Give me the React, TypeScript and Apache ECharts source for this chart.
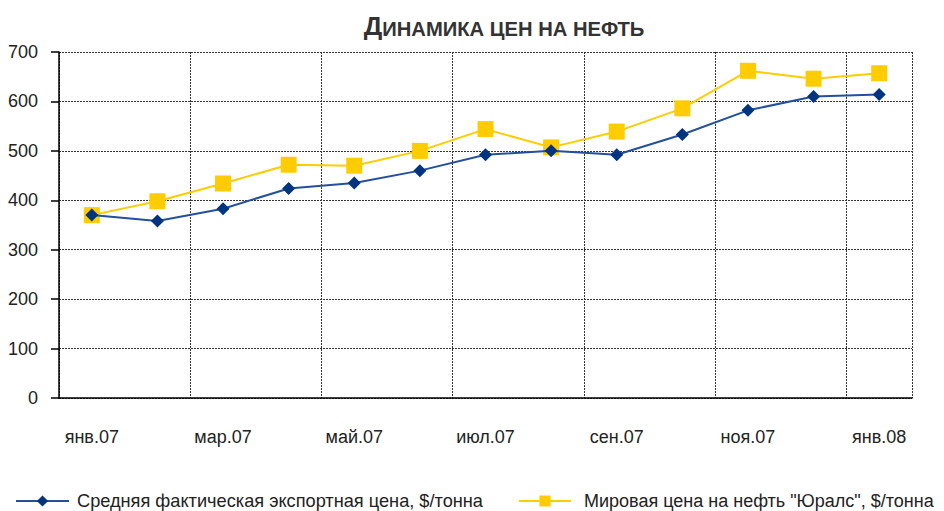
import React, { useEffect, useRef } from "react";
import * as echarts from "echarts";

const categories = ["янв.07", "фев.07", "мар.07", "апр.07", "май.07", "июн.07", "июл.07", "авг.07", "сен.07", "окт.07", "ноя.07", "дек.07", "янв.08"];
const exportPrice = [370, 358, 383, 424, 435, 460, 492, 500, 492, 533, 582, 610, 614];
const uralsPrice = [370, 398, 434, 472, 470, 500, 544, 507, 539, 586, 662, 646, 657];
const seriesNames = ["Средняя фактическая экспортная цена, $/тонна", "Мировая цена на нефть \"Юралс\", $/тонна"];

const FONT = "'Liberation Sans', Arial, sans-serif";

export default function App() {
  const ref = useRef<HTMLDivElement>(null);
  useEffect(() => {
    const chart = echarts.init(ref.current!, null, { renderer: "svg" });
    chart.setOption({
      animation: false,
      backgroundColor: "#fff",
      textStyle: { fontFamily: FONT },
      title: {
        text: "{a|Д}{b|ИНАМИКА ЦЕН НА НЕФТЬ}",
        left: 499,
        textAlign: "center",
        top: 8,
        textStyle: {
          rich: {
            a: { fontFamily: FONT, fontSize: 26, fontWeight: "bold", color: "#333" },
            b: { fontFamily: FONT, fontSize: 20.2, fontWeight: "bold", color: "#333", verticalAlign: "bottom" },
          },
        },
      },
      grid: { left: 59, right: 32, top: 52, bottom: 113, containLabel: false },
      legend: [
        {
          data: [seriesNames[0]],
          left: 10,
          top: 487,
          itemWidth: 53,
          itemHeight: 14,
          textStyle: { fontFamily: FONT, fontSize: 18.2, color: "#222", padding: [0, 0, 0, 3] },
        },
        {
          data: [seriesNames[1]],
          left: 513,
          top: 487,
          itemWidth: 52,
          itemHeight: 14,
          textStyle: { fontFamily: FONT, fontSize: 18, color: "#222", padding: [0, 0, 0, 8] },
        },
      ],
      xAxis: {
        type: "category",
        data: categories,
        boundaryGap: true,
        axisLine: { lineStyle: { color: "#000", width: 1.5 } },
        axisTick: { interval: (i: number) => i % 2 === 0 && i < 13, length: 7, lineStyle: { color: "#000", width: 1.5 } },
        axisLabel: { interval: 1, margin: 30, fontSize: 18, color: "#222", fontFamily: FONT },
        splitLine: { show: true, interval: (i: number) => i % 2 === 0 && i < 13, lineStyle: { color: "#333", type: [2, 1], width: 1 } },
      },
      yAxis: {
        type: "value",
        min: 0,
        max: 700,
        interval: 100,
        axisLine: { show: true, lineStyle: { color: "#000", width: 1.5 } },
        axisTick: { show: true, length: 8, lineStyle: { color: "#000", width: 1.5 } },
        axisLabel: { margin: 21, fontSize: 18, color: "#222", fontFamily: FONT },
        splitLine: { show: true, lineStyle: { color: "#333", type: [2, 1], width: 1 } },
      },
      series: [
        {
          name: seriesNames[0],
          type: "line",
          data: exportPrice,
          symbol: "diamond",
          symbolSize: 13,
          lineStyle: { color: "#234F9C", width: 2 },
          itemStyle: { color: "#003380" },
          z: 3,
        },
        {
          name: seriesNames[1],
          type: "line",
          data: uralsPrice,
          symbol: "rect",
          symbolSize: 16,
          lineStyle: { color: "#FFCC00", width: 2 },
          itemStyle: { color: "#FFCC00" },
          z: 2,
        },
      ],
    });
    return () => chart.dispose();
  }, []);
  return <div ref={ref} style={{ width: 944, height: 511, position: "absolute", left: 0, top: 0 }} />;
}
